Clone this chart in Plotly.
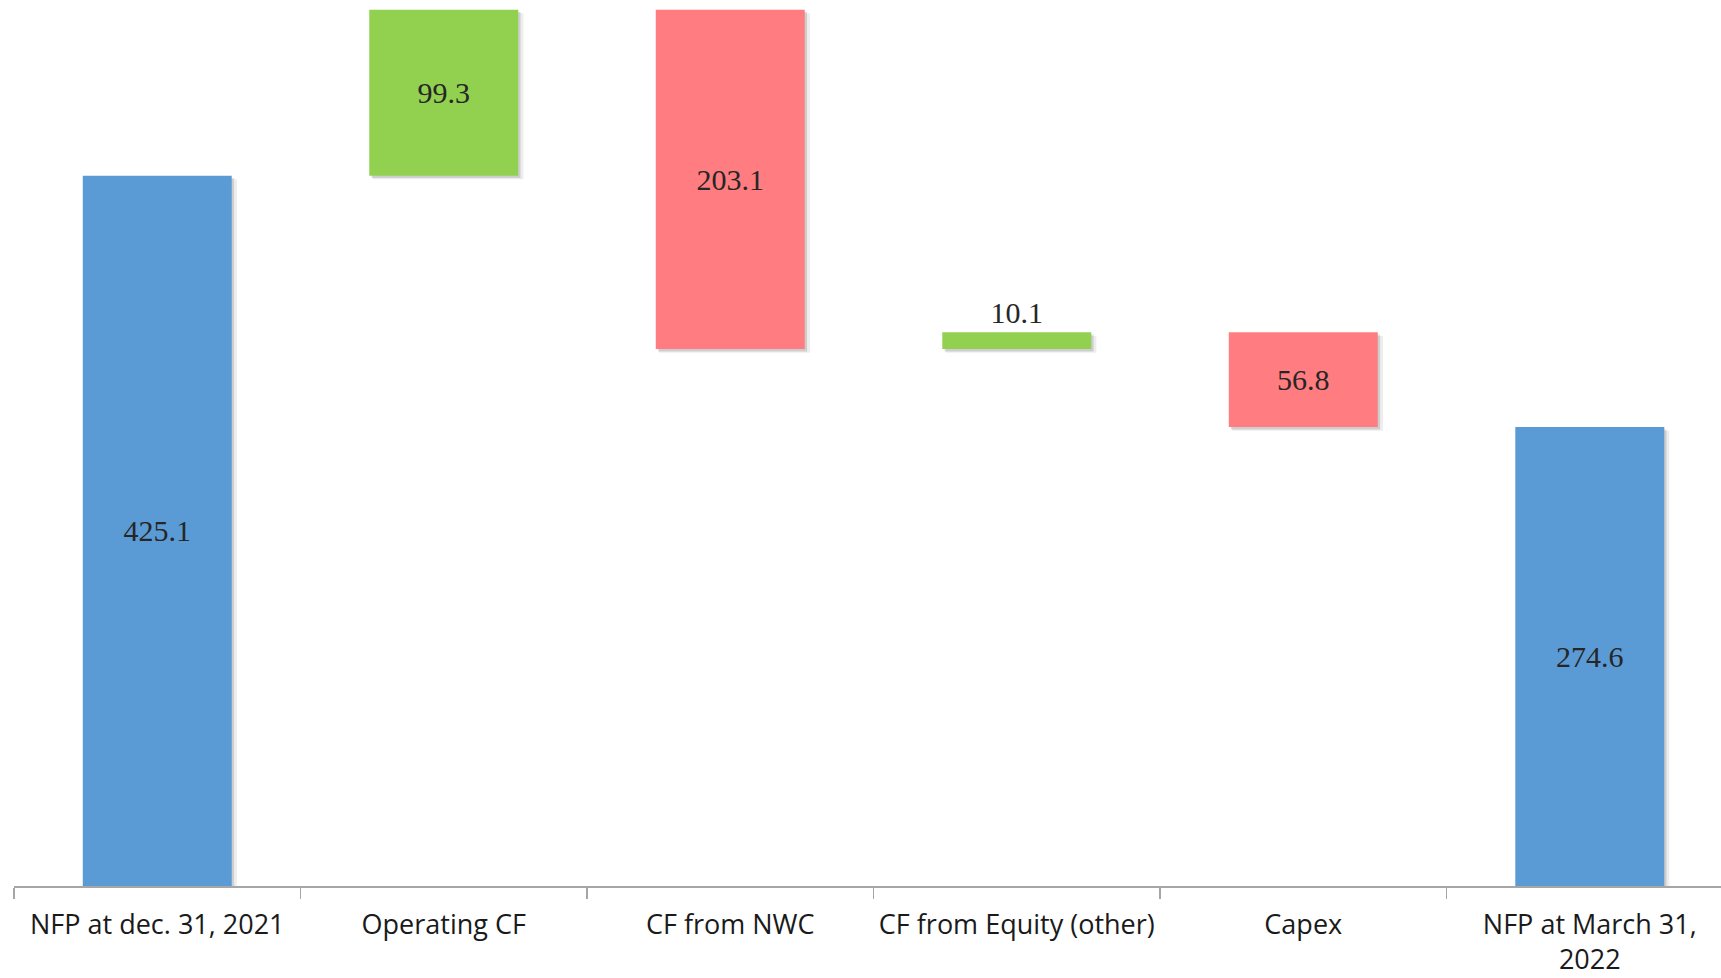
import plotly.graph_objects as go

categories = ["NFP at dec. 31, 2021", "Operating CF", "CF from NWC",
              "CF from Equity (other)", "Capex", "NFP at March 31,<br>2022"]
measures = ["absolute", "relative", "relative", "relative", "relative", "total"]
values = [425.1, 99.3, -203.1, 10.1, -56.8, 0]
labels = ["425.1", "99.3", "203.1", "10.1", "56.8", "274.6"]
label_pos = ["inside", "inside", "inside", "outside", "inside", "inside"]

BLUE = "#5B9BD5"
GREEN = "#92D050"
RED = "#FF7C80"
BAR_W = 0.52

fig = go.Figure()

# soft drop shadows (same data, shifted slightly right/down)
for dx, dy, w_extra, alpha in [(0.012, -2.2, 0.006, 0.07), (0.008, -1.4, 0.0, 0.13)]:
    fig.add_trace(go.Waterfall(
        x=categories,
        y=values,
        measure=measures,
        base=dy,
        width=BAR_W + w_extra,
        offset=-BAR_W / 2 + dx,
        increasing=dict(marker=dict(color=f"rgba(0,0,0,{alpha})")),
        decreasing=dict(marker=dict(color=f"rgba(0,0,0,{alpha})")),
        totals=dict(marker=dict(color=f"rgba(0,0,0,{alpha})")),
        connector=dict(visible=False),
        hoverinfo="skip",
        textinfo="none",
    ))

fig.add_trace(go.Waterfall(
    x=categories,
    y=values,
    measure=measures,
    text=labels,
    textposition=label_pos,
    insidetextanchor="middle",
    textfont=dict(family="Liberation Serif", size=30, color="#262626"),
    width=BAR_W,
    offset=-BAR_W / 2,
    increasing=dict(marker=dict(color=GREEN)),
    decreasing=dict(marker=dict(color=RED)),
    totals=dict(marker=dict(color=BLUE)),
    connector=dict(visible=False),
    cliponaxis=False,
    hoverinfo="skip",
))

fig.update_layout(
    width=1721, height=978,
    margin=dict(l=14, r=0, t=0, b=92),
    paper_bgcolor="white",
    plot_bgcolor="white",
    showlegend=False,
    waterfallmode="overlay",
    xaxis=dict(
        type="category",
        range=[-0.5, 5.458],
        tickson="boundaries",
        ticks="outside",
        ticklen=11,
        tickwidth=1.5,
        tickcolor="#A6A6A6",
        showline=True,
        linecolor="#A6A6A6",
        linewidth=1.5,
        showgrid=False,
        tickangle=0,
        ticklabelstandoff=14,
        tickfont=dict(family="Open Sans", size=27, color="#1a1a1a"),
        fixedrange=True,
        automargin=False,
        layer="above traces",
    ),
    yaxis=dict(
        visible=False,
        range=[0, 530.2],
        showgrid=False,
        zeroline=False,
        fixedrange=True,
    ),
)

fig.write_html(
    "out.html",
    config={"displayModeBar": False, "staticPlot": True},
    post_script="document.body.style.margin='0';document.body.style.overflow='hidden';",
)
